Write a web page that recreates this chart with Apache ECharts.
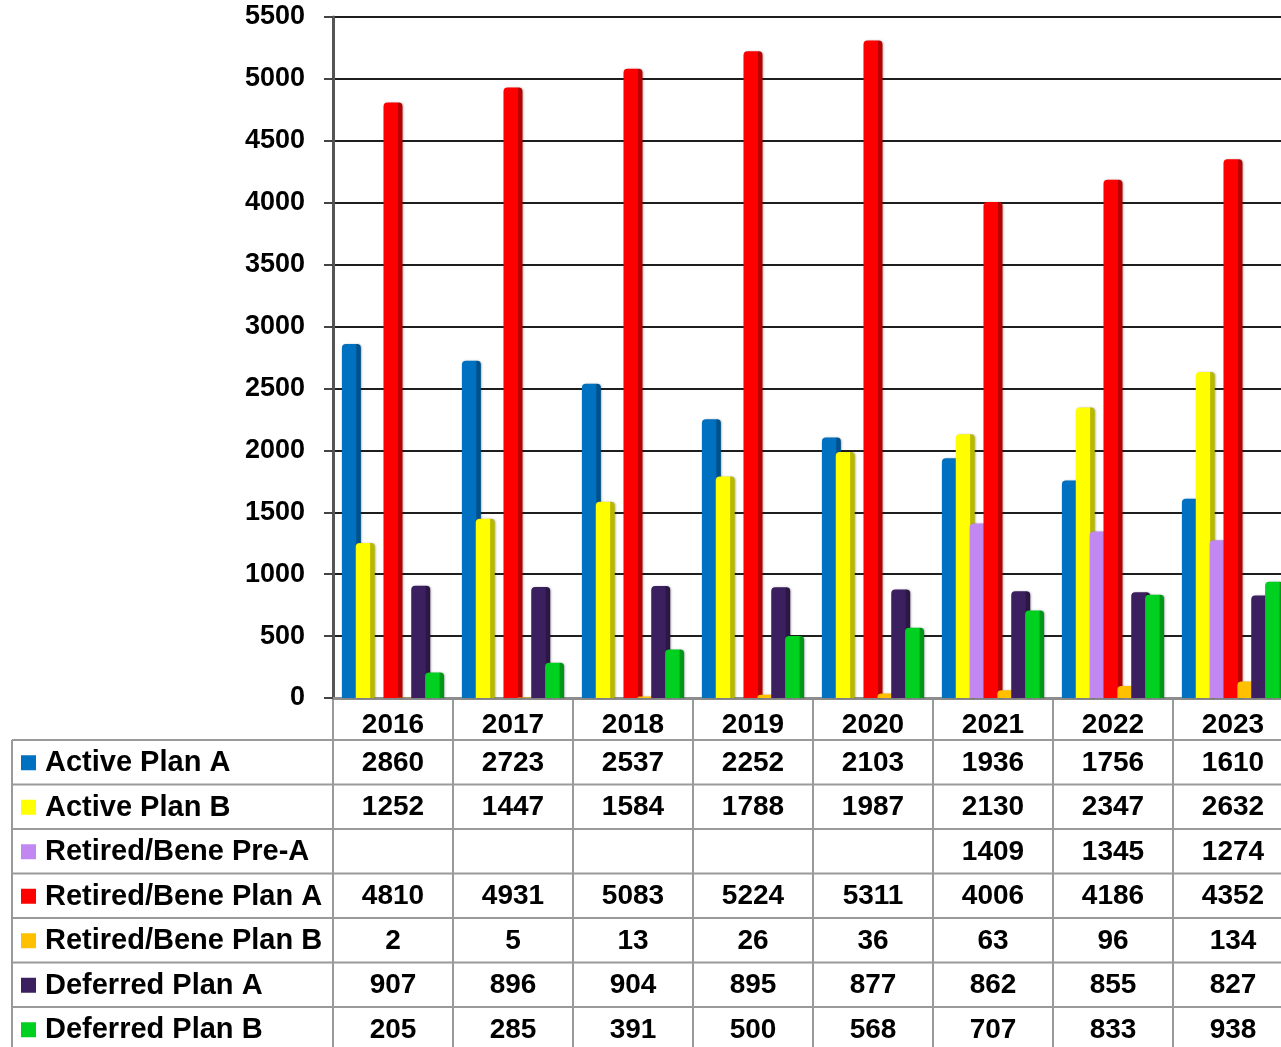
<!DOCTYPE html>
<html>
<head>
<meta charset="utf-8">
<script src="https://cdn.jsdelivr.net/npm/echarts@6/dist/echarts.min.js"></script>
<style>
  html, body { margin: 0; padding: 0; background: #fff; overflow: hidden; }
  #chart { width: 1281px; height: 1047px; }
</style>
</head>
<body>
<div id="chart"></div>
<script>
'use strict';

// data
const years = ['2016', '2017', '2018', '2019', '2020', '2021', '2022', '2023'];
const activeA = [2860, 2723, 2537, 2252, 2103, 1936, 1756, 1610];
const activeB = [1252, 1447, 1584, 1788, 1987, 2130, 2347, 2632];
const retiredPreA = [null, null, null, null, null, 1409, 1345, 1274];
const retiredA = [4810, 4931, 5083, 5224, 5311, 4006, 4186, 4352];
const retiredB = [2, 5, 13, 26, 36, 63, 96, 134];
const deferredA = [907, 896, 904, 895, 877, 862, 855, 827];
const deferredB = [205, 285, 391, 500, 568, 707, 833, 938];

const yMin = 0;
const yMax = 5500;
const yStep = 500;

const rows = [
  { name: 'Active Plan A', data: activeA, color: '#0070C0' },
  { name: 'Active Plan B', data: activeB, color: '#FFFF00' },
  { name: 'Retired/Bene Pre-A', data: retiredPreA, color: '#C088F0' },
  { name: 'Retired/Bene Plan A', data: retiredA, color: '#FF0000' },
  { name: 'Retired/Bene Plan B', data: retiredB, color: '#FFC000' },
  { name: 'Deferred Plan A', data: deferredA, color: '#3C1F5E' },
  { name: 'Deferred Plan B', data: deferredB, color: '#00D020' }
];

const FONT = '"Liberation Sans", Arial, sans-serif';

function shade(hex, f) {
  const n = parseInt(hex.slice(1), 16);
  const r = Math.round(((n >> 16) & 255) * f);
  const g = Math.round(((n >> 8) & 255) * f);
  const b = Math.round((n & 255) * f);
  return `rgb(${r},${g},${b})`;
}

// fake the 3d look: darker right face on every bar
function barColor(c) {
  return new echarts.graphic.LinearGradient(0, 0, 1, 0, [
    { offset: 0, color: c },
    { offset: 0.74, color: c },
    { offset: 0.78, color: shade(c, 0.72) },
    { offset: 1, color: shade(c, 0.72) }
  ]);
}

const chart = echarts.init(document.getElementById('chart'), null, { renderer: 'canvas' });

const option = {
  animation: false,
  backgroundColor: '#fff',
  grid: { left: 333, top: 17, width: 960, bottom: 349, outerBoundsMode: 'none' },
  xAxis: {
    type: 'category',
    data: years,
    axisLine: { show: true, lineStyle: { color: '#8c8c8c', width: 3 } },
    axisTick: { show: false },
    axisLabel: {
      color: '#000', fontFamily: FONT, fontWeight: 'bold', fontSize: 28, margin: 13
    }
  },
  yAxis: {
    type: 'value',
    min: yMin,
    max: yMax,
    interval: yStep,
    axisLine: { show: true, lineStyle: { color: '#555', width: 3 } },
    axisTick: { show: true, length: 9, lineStyle: { color: '#444', width: 2 } },
    axisLabel: {
      color: '#000', fontFamily: FONT, fontWeight: 'bold', fontSize: 27, margin: 28,
      formatter: v => String(v)
    },
    splitLine: { show: true, lineStyle: { color: '#1e1e1e', width: 2 } }
  },
  series: rows.map(r => ({
    name: r.name,
    type: 'bar',
    data: r.data,
    barWidth: 19,
    barGap: '-27%',
    itemStyle: {
      color: barColor(r.color),
      borderRadius: [4, 4, 0, 0],
      shadowColor: 'rgba(0,0,0,0.25)',
      shadowBlur: 2,
      shadowOffsetX: 1
    }
  }))
};

chart.setOption(option);

// data table under the plot
function buildTable() {
  const centers = years.map((y, i) => chart.convertToPixel({ xAxisIndex: 0 }, i));
  const colW = centers[1] - centers[0];
  const axisY = chart.convertToPixel({ yAxisIndex: 0 }, 0);
  const tableTop = 740;
  const rowH = 44.5;
  const tableLeft = 12;
  const labelRight = centers[0] - colW / 2;
  const lineStyle = { stroke: '#9a9a9a', lineWidth: 2 };
  const els = [];

  // horizontal rules
  for (let k = 0; k <= rows.length; k++) {
    const y = tableTop + k * rowH;
    els.push({ type: 'line', shape: { x1: tableLeft, y1: y, x2: 1281, y2: y }, style: lineStyle, silent: true });
  }
  // vertical rules
  els.push({ type: 'line', shape: { x1: tableLeft, y1: tableTop, x2: tableLeft, y2: 1047 }, style: lineStyle, silent: true });
  for (let i = 0; i <= years.length; i++) {
    const x = labelRight + i * colW;
    els.push({ type: 'line', shape: { x1: x, y1: axisY + 1, x2: x, y2: 1047 }, style: lineStyle, silent: true });
  }

  rows.forEach((r, k) => {
    const cy = tableTop + k * rowH + rowH / 2;
    els.push({
      type: 'rect', shape: { x: 21, y: cy - 7, width: 15, height: 15 },
      style: { fill: r.color }, silent: true
    });
    els.push({
      type: 'text', silent: true,
      style: {
        text: r.name, x: 45, y: cy + 1, fill: '#000',
        font: `bold 29px ${FONT}`, textAlign: 'left', textVerticalAlign: 'middle'
      }
    });
    r.data.forEach((v, i) => {
      if (v == null) return;
      els.push({
        type: 'text', silent: true,
        style: {
          text: String(v), x: centers[i], y: cy + 1, fill: '#000',
          font: `bold 28px ${FONT}`, textAlign: 'center', textVerticalAlign: 'middle'
        }
      });
    });
  });

  chart.setOption({ graphic: { elements: els } });
}

buildTable();
</script>
</body>
</html>
